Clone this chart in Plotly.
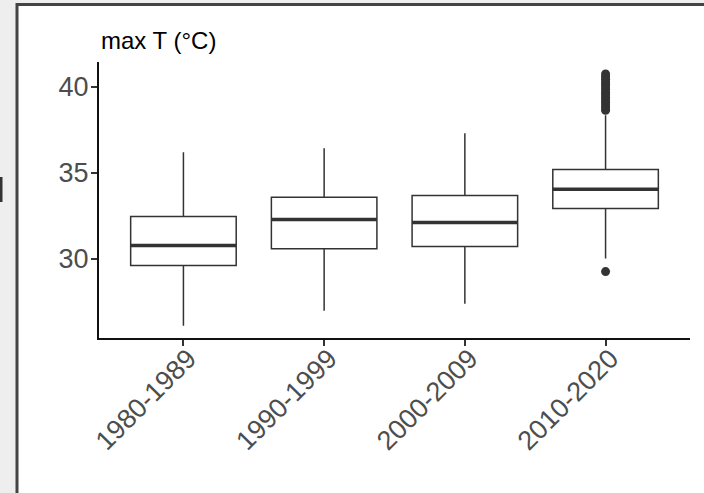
import plotly.graph_objects as go

categories = ["1980-1989", "1990-1999", "2000-2009", "2010-2020"]
lower_whisker = [26.08, 26.96, 27.37, 30.0]
q1_vals = [29.59, 30.58, 30.70, 32.92]
median_vals = [30.76, 32.28, 32.10, 34.04]
q3_vals = [32.46, 33.57, 33.68, 35.20]
upper_whisker = [36.20, 36.43, 37.31, 38.36]
outlier_group = "2010-2020"
outlier_vals = [38.65, 38.8, 38.95, 39.1, 39.25, 39.4, 39.55, 39.7, 39.85, 40.0,
                40.15, 40.3, 40.45, 40.6, 40.76, 29.24]
y_tickvals = [30, 35, 40]

BOX_COLOR = "#333333"
FONT = "Liberation Sans, Arial, Helvetica, sans-serif"
BOX_WIDTH = 0.75

pos = list(range(len(categories)))

fig = go.Figure()
fig.add_trace(go.Box(
    x=pos,
    q1=q1_vals, median=median_vals, q3=q3_vals,
    lowerfence=lower_whisker, upperfence=upper_whisker,
    width=BOX_WIDTH,
    whiskerwidth=0,
    fillcolor="white",
    line=dict(color=BOX_COLOR, width=1.5),
    boxpoints=False,
    showlegend=False,
    hoverinfo="skip",
))

# thicker median bars (ggplot style)
for i, m in enumerate(median_vals):
    fig.add_trace(go.Scatter(
        x=[pos[i] - BOX_WIDTH / 2, pos[i] + BOX_WIDTH / 2], y=[m, m],
        mode="lines", line=dict(color=BOX_COLOR, width=3.5),
        showlegend=False, hoverinfo="skip",
    ))

oi = categories.index(outlier_group)
fig.add_trace(go.Scatter(
    x=[pos[oi]] * len(outlier_vals), y=outlier_vals,
    mode="markers", marker=dict(color=BOX_COLOR, size=9),
    showlegend=False, hoverinfo="skip",
))

W, H = 704, 493
L, R, T, B = 99, 14, 62, 155
pw, ph = W - L - R, H - T - B

def px(p):
    return (p - L) / pw

def py(p):
    return (H - B - p) / ph

shapes = [
    # white card with dark border
    dict(type="rect", xref="paper", yref="paper", layer="below",
         x0=px(17), x1=px(720), y0=py(520), y1=py(4.5),
         fillcolor="white", line=dict(color="#444444", width=3)),
    # small dark mark at left edge
    dict(type="rect", xref="paper", yref="paper", layer="below",
         x0=px(-2), x1=px(2.5), y0=py(202), y1=py(177),
         fillcolor="#333333", line=dict(width=0)),
]

fig.update_layout(
    width=W, height=H,
    margin=dict(l=L, r=R, t=T, b=B),
    paper_bgcolor="#eeeeee",
    plot_bgcolor="rgba(0,0,0,0)",
    font=dict(family=FONT),
    shapes=shapes,
    annotations=[dict(
        text="max T (°C)", xref="paper", yref="paper",
        x=px(99), y=py(40), xanchor="left", yanchor="middle",
        showarrow=False, font=dict(size=24, color="black", family=FONT),
    )],
    xaxis=dict(
        range=[-0.6, 3.6], tickmode="array", tickvals=pos, ticktext=categories,
        tickangle=-45, showgrid=False, zeroline=False,
        showline=True, linecolor="#111111", linewidth=2,
        ticks="outside", ticklen=6, tickwidth=1.5, tickcolor="#333333",
        ticklabelstandoff=-14, ticklabelshift=5,
        tickfont=dict(size=27, color="#4d4d4d", family=FONT),
    ),
    yaxis=dict(
        range=[25.37, 41.46], tickmode="array", tickvals=y_tickvals,
        showgrid=False, zeroline=False,
        showline=True, linecolor="#111111", linewidth=2,
        ticks="outside", ticklen=6, tickwidth=1.5, tickcolor="#333333",
        ticklabelstandoff=-3,
        tickfont=dict(size=27, color="#4d4d4d", family=FONT),
    ),
)

fig.write_html("out.html")
